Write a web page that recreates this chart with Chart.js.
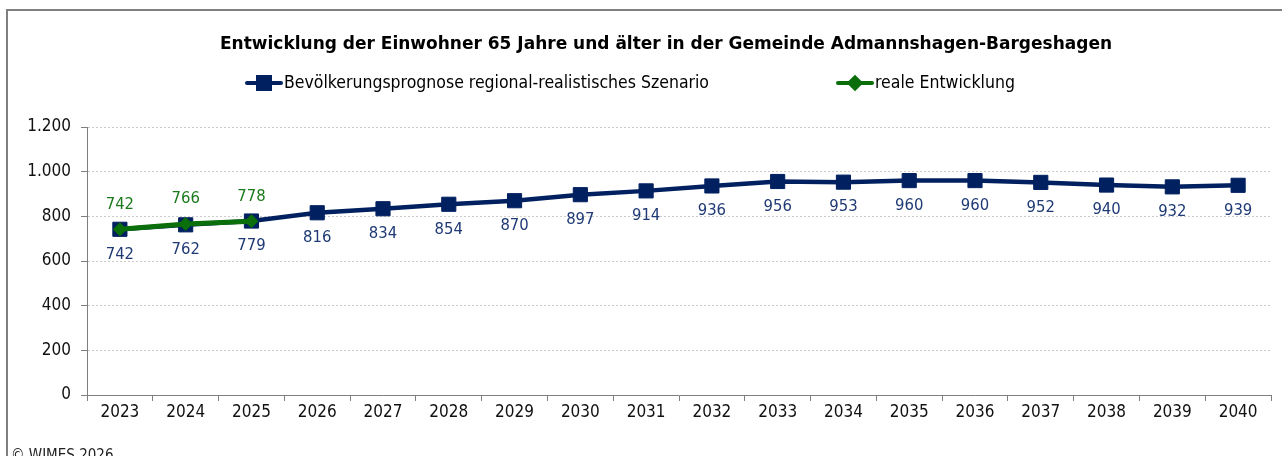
<!DOCTYPE html>
<html>
<head>
<meta charset="utf-8">
<script src="https://cdn.jsdelivr.net/npm/chart.js@4/dist/chart.umd.min.js"></script>
<style>
    html, body { margin: 0; padding: 0; background: #fff; }
    #wrap { position: relative; width: 1282px; height: 456px; }
</style>
</head>
<body>
<div id="wrap"><canvas id="popChart" width="1282" height="456"></canvas></div>
<script>
const YEARS = ['2023', '2024', '2025', '2026', '2027', '2028', '2029', '2030', '2031',
    '2032', '2033', '2034', '2035', '2036', '2037', '2038', '2039', '2040'];
const PROGNOSE = [742, 762, 779, 816, 834, 854, 870, 897, 914, 936, 956, 953, 960, 960, 952, 940, 932, 939];
const REAL = [742, 766, 778, null, null, null, null, null, null, null, null, null, null, null, null, null, null, null];
const Y_TICKS = [0, 200, 400, 600, 800, 1000, 1200];

const TITLE = 'Entwicklung der Einwohner 65 Jahre und älter in der Gemeinde Admannshagen-Bargeshagen';
const LABEL_PROGNOSE = 'Bevölkerungsprognose regional-realistisches Szenario';
const LABEL_REAL = 'reale Entwicklung';
const COPYRIGHT = '© WIMES 2026';

const COLOR_BLUE = '#002060';
const COLOR_BLUE_TEXT = '#1f3a74';
const COLOR_GREEN = '#0a6e0a';
const COLOR_GREEN_TEXT = '#1c7a1c';
const FONT = '"DejaVu Sans Condensed", "DejaVu Sans", sans-serif';
const FONT_TITLE = '"DejaVu Sans", Verdana, sans-serif';

// frame, title, legend and footer in the look of the office chart
const decorPlugin = {
    id: 'decor',
    beforeDraw: function(chart) {
        let ctx = chart.ctx;
        ctx.save();
        ctx.strokeStyle = '#7f7f7f';
        ctx.lineWidth = 2;
        ctx.strokeRect(7, 10, 1300, 470);
        ctx.restore();
    },
    afterDraw: function(chart) {
        let ctx = chart.ctx;
        ctx.save();
        ctx.fillStyle = '#000';
        ctx.textBaseline = 'middle';
        ctx.textAlign = 'center';
        ctx.font = 'bold 17px ' + FONT_TITLE;
        ctx.fillText(TITLE, 666, 45);

        // legend entries: line with marker, then text
        let aItems = [
            {x: 245, text: LABEL_PROGNOSE, color: COLOR_BLUE, style: 'rect', radius: 8.5},
            {x: 836, text: LABEL_REAL, color: COLOR_GREEN, style: 'rectRot', radius: 5.5}
        ];
        aItems.forEach(function(oItem) {
            ctx.strokeStyle = oItem.color;
            ctx.fillStyle = oItem.color;
            ctx.lineWidth = 4;
            ctx.lineCap = 'round';
            ctx.beginPath();
            ctx.moveTo(oItem.x + 2, 83);
            ctx.lineTo(oItem.x + 36, 83);
            ctx.stroke();
            Chart.helpers.drawPoint(ctx, {pointStyle: oItem.style, radius: oItem.radius, borderWidth: 1}, oItem.x + 19, 83);
            ctx.fillStyle = '#000';
            ctx.textAlign = 'left';
            ctx.font = '17.5px ' + FONT;
            ctx.fillText(oItem.text, oItem.x + 39, 83);
        });

        ctx.font = '15px ' + FONT;
        ctx.fillStyle = '#222';
        ctx.textBaseline = 'alphabetic';
        ctx.fillText(COPYRIGHT, 11, 460);
        ctx.restore();
    }
};

// value labels below (forecast) and above (real) the points
const valueLabelPlugin = {
    id: 'valueLabels',
    afterDatasetsDraw: function(chart) {
        let ctx = chart.ctx;
        ctx.save();
        ctx.font = '16.5px ' + FONT;
        ctx.textAlign = 'center';
        ctx.textBaseline = 'middle';
        chart.data.datasets.forEach(function(oDataset, i) {
            let oMeta = chart.getDatasetMeta(i);
            oMeta.data.forEach(function(oPoint, j) {
                let value = oDataset.data[j];
                if (value === null) {
                    return;
                }
                ctx.fillStyle = oDataset.labelColor;
                ctx.fillText(String(value), oPoint.x, oPoint.y + oDataset.labelOffset);
            });
        });
        ctx.restore();
    }
};

let oCtx = document.getElementById('popChart').getContext('2d');
new Chart(oCtx, {
    type: 'line',
    data: {
        labels: YEARS,
        datasets: [{
            label: LABEL_REAL,
            data: REAL,
            borderColor: COLOR_GREEN,
            backgroundColor: COLOR_GREEN,
            borderWidth: 5,
            pointStyle: 'rectRot',
            pointRadius: 6.5,
            pointBorderWidth: 1,
            labelColor: COLOR_GREEN_TEXT,
            labelOffset: -25,
            spanGaps: false,
            order: 0
        }, {
            label: LABEL_PROGNOSE,
            data: PROGNOSE,
            borderColor: COLOR_BLUE,
            backgroundColor: COLOR_BLUE,
            borderWidth: 4.5,
            pointStyle: 'rect',
            pointRadius: 10,
            pointBorderWidth: 1,
            labelColor: COLOR_BLUE_TEXT,
            labelOffset: 25,
            order: 1
        }]
    },
    options: {
        responsive: false,
        animation: false,
        layout: {
            padding: {top: 127, left: 0, right: 9, bottom: 0}
        },
        plugins: {
            legend: {display: false},
            title: {display: false},
            tooltip: {enabled: false}
        },
        scales: {
            x: {
                type: 'category',
                offset: true,
                grid: {
                    offset: true,
                    drawOnChartArea: false,
                    tickLength: 6,
                    tickColor: '#7f7f7f'
                },
                border: {color: '#7f7f7f', width: 1},
                ticks: {
                    color: '#111',
                    font: {family: FONT, size: 17},
                    padding: 1,
                    maxRotation: 0,
                    autoSkip: false
                },
                afterFit: function(scale) {
                    scale.height = 61;
                }
            },
            y: {
                min: 0,
                max: 1200,
                afterBuildTicks: function(scale) {
                    scale.ticks = Y_TICKS.map(function(v) { return {value: v}; });
                },
                grid: {
                    color: '#cccccc',
                    tickLength: 6,
                    tickColor: '#7f7f7f',
                    tickBorderDash: []
                },
                border: {color: '#7f7f7f', width: 1, dash: [2, 2]},
                ticks: {
                    color: '#111',
                    font: {family: FONT, size: 17},
                    padding: 10,
                    callback: function(value) {
                        return value.toLocaleString('de-DE');
                    }
                },
                afterFit: function(scale) {
                    scale.width = 87;
                }
            }
        }
    },
    plugins: [decorPlugin, valueLabelPlugin]
});
</script>
</body>
</html>
